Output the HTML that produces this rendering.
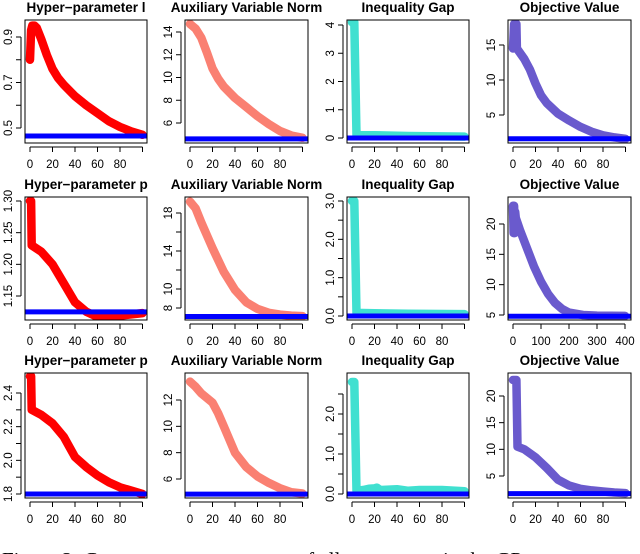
<!DOCTYPE html>
<html><head><meta charset="utf-8">
<style>
html,body{margin:0;padding:0;background:#fff;}
svg{display:block;font-family:"Liberation Sans",sans-serif;}
</style></head>
<body>
<svg id="fig" width="640" height="554" viewBox="0 0 640 554" xmlns="http://www.w3.org/2000/svg">
<defs>
<clipPath id="c1"><rect x="0" y="0" width="151" height="554"/></clipPath>
<clipPath id="c2"><rect x="160" y="0" width="163" height="554"/></clipPath>
<clipPath id="c3"><rect x="323" y="0" width="160" height="554"/></clipPath>
<clipPath id="c4"><rect x="483" y="0" width="157" height="554"/></clipPath>
</defs>
<text x="2" y="567" font-family="Liberation Serif, serif" font-size="21" fill="#000">Figure 2:   Convergence  parameters  of  all  parameters  in  the  GP</text>
</svg>
<script>
// ---- data ----
const p11_x=[0,1,2,4,6,10,15,20,25,30,40,50,60,70,80,90,100];
const p11_y=[0.80,0.93,0.95,0.95,0.94,0.89,0.82,0.76,0.72,0.69,0.64,0.60,0.565,0.53,0.505,0.485,0.47];
const p11_ref=0.465;
const p12_x=[0,5,10,15,20,25,30,40,50,60,70,80,90,100];
const p12_y=[14.7,14.3,13.5,12.2,10.8,9.9,9.2,8.2,7.4,6.6,5.9,5.3,4.9,4.7];
const p12_ref=4.6;
const p13_x=[0,2,4,20,50,100];
const p13_y=[4.1,4.1,0.1,0.1,0.07,0.05];
const p13_ref=0;
const p14_x=[0,1,2,3,3.5,10,15,20,25,30,40,50,60,70,80,90,100];
const p14_y=[14.5,18,14.5,18,14.5,13,11.5,9.5,7.8,6.7,5.2,4.2,3.3,2.6,2.1,1.8,1.6];
const p14_ref=1.6;

const p21_x=[0,1,1.5,10,20,30,40,50,60,70,80,90,100];
const p21_y=[1.30,1.30,1.23,1.22,1.20,1.17,1.14,1.125,1.117,1.117,1.119,1.121,1.123];
const p21_ref=1.125;
const p22_x=[0,5,10,20,30,40,50,60,70,80,90,100];
const p22_y=[19.2,18.5,17,14.3,11.8,9.9,8.6,7.9,7.5,7.3,7.2,7.15];
const p22_ref=7.1;
const p23_x=[0,2,4,20,50,100];
const p23_y=[3.0,3.0,0.08,0.07,0.06,0.05];
const p23_ref=0;
const p24_x=[0,2,4,6,8,10,25,50,75,100,125,150,175,200,250,300,400];
const p24_y=[23,18.5,23,18.5,22,21,19,16,13,10.5,8.5,7,6,5.4,5,4.9,4.85];
const p24_ref=4.8;

const p31_x=[0,1,1.5,10,20,30,35,40,50,60,70,80,90,100];
const p31_y=[2.5,2.5,2.3,2.27,2.22,2.14,2.08,2.02,1.96,1.91,1.87,1.84,1.82,1.80];
const p31_ref=1.8;
const p32_x=[0,5,10,20,25,30,35,40,50,60,70,80,90,100];
const p32_y=[13.4,13,12.5,11.8,11,10,9,8,6.9,6.2,5.7,5.3,5.0,4.9];
const p32_ref=4.85;
const p33_x=[0,2,4,10,15,20,22,25,40,50,60,80,100];
const p33_y=[2.8,2.8,0.08,0.1,0.13,0.14,0.16,0.1,0.12,0.08,0.1,0.1,0.07];
const p33_ref=0;
const p34_x=[0,3,4,10,20,30,40,50,60,70,80,90,100];
const p34_y=[23,23,10.5,10,8.5,6.5,4.3,3.2,2.6,2.3,2.1,1.9,1.8];
const p34_ref=1.7;

const titles=["Hyper−parameter l","Auxiliary Variable Norm","Inequality Gap","Objective Value"];
const titles2=["Hyper−parameter p","Auxiliary Variable Norm","Inequality Gap","Objective Value"];
const xTicks100=[0,20,40,60,80,100];
const xLabels100=["0","20","40","60","80",""];
const xTicks400=[0,100,200,300,400];
const xLabels400=["0","100","200","300","400"];

// ---- layout ----
const NS="http://www.w3.org/2000/svg";
const svg=document.getElementById('fig');
const colL=[25,185,347,508], colR=[147,308,469,631];
const rowT=[20,197,373], rowB=[143,320,498];
const colors=["#ff0000","#fa8072","#40e0d0","#6a5acd"];
function mk(tag,attrs,parent){const e=document.createElementNS(NS,tag);for(const k in attrs)e.setAttribute(k,attrs[k]);(parent||svg).appendChild(e);return e;}

const panels=[
 {r:0,c:0,x:p11_x,y:p11_y,ref:p11_ref,ya:[0.9,37,0.5,128],yt:[0.5,0.6,0.7,0.8,0.9],yl:["0.5","","0.7","","0.9"],t:titles[0]},
 {r:0,c:1,x:p12_x,y:p12_y,ref:p12_ref,ya:[14,32,6,123],yt:[6,8,10,12,14],yl:["6","8","10","12","14"],t:titles[1]},
 {r:0,c:2,x:p13_x,y:p13_y,ref:p13_ref,ya:[4,25,0,138],yt:[0,1,2,3,4],yl:["0","1","2","3","4"],t:titles[2]},
 {r:0,c:3,x:p14_x,y:p14_y,ref:p14_ref,ya:[15,45,5,115],yt:[5,10,15],yl:["5","10","15"],t:titles[3]},
 {r:1,c:0,x:p21_x,y:p21_y,ref:p21_ref,ya:[1.30,201,1.15,296],yt:[1.15,1.20,1.25,1.30],yl:["1.15","1.20","1.25","1.30"],t:titles2[0]},
 {r:1,c:1,x:p22_x,y:p22_y,ref:p22_ref,ya:[18,213,8,308],yt:[8,10,12,14,16,18],yl:["8","10","","14","","18"],t:titles2[1]},
 {r:1,c:2,x:p23_x,y:p23_y,ref:p23_ref,ya:[3,201,0,316],yt:[0,0.5,1,1.5,2,2.5,3],yl:["0.0","","1.0","","2.0","","3.0"],t:titles2[2]},
 {r:1,c:3,x:p24_x,y:p24_y,ref:p24_ref,ya:[20,224,5,315],yt:[5,10,15,20],yl:["5","10","15","20"],t:titles2[3],x400:true},
 {r:2,c:0,x:p31_x,y:p31_y,ref:p31_ref,ya:[2.4,393,1.8,494],yt:[1.8,1.9,2.0,2.1,2.2,2.3,2.4],yl:["1.8","","2.0","","2.2","","2.4"],t:titles2[0]},
 {r:2,c:1,x:p32_x,y:p32_y,ref:p32_ref,ya:[12,400,6,479],yt:[6,8,10,12],yl:["6","8","10","12"],t:titles2[1]},
 {r:2,c:2,x:p33_x,y:p33_y,ref:p33_ref,ya:[2,414,0,494],yt:[0,0.5,1,1.5,2,2.5],yl:["0.0","","1.0","","2.0",""],t:titles2[2]},
 {r:2,c:3,x:p34_x,y:p34_y,ref:p34_ref,ya:[20,396,5,476],yt:[5,10,15,20],yl:["5","10","15","20"],t:titles2[3]}
];

panels.forEach((p,i)=>{
  const L=colL[p.c],R=colR[p.c],T=rowT[p.r],B=rowB[p.r];
  const g=mk('g',{});
  
  
  const X=p.x400?(v=>L+5+v*(R-L-11)/400):(v=>L+5+v*1.125);
  const Y=v=>p.ya[1]+(v-p.ya[0])*(p.ya[3]-p.ya[1])/(p.ya[2]-p.ya[0]);
  const cid='cp'+i;
  const cp=mk('clipPath',{id:cid},g);mk('rect',{x:L,y:T,width:R-L,height:B-T},cp);
  let d='';p.x.forEach((v,k)=>{d+=(k?'L':'M')+X(v).toFixed(1)+' '+Y(p.y[k]).toFixed(1);});
  const path=mk('path',{d:d,fill:'none',stroke:colors[p.c],'stroke-width':8.5,'stroke-linejoin':'round','stroke-linecap':'round','clip-path':'url(#'+cid+')'},g);
  
  
  const ref=mk('line',{x1:L,x2:R,y1:Y(p.ref),y2:Y(p.ref),stroke:'#0000ff','stroke-width':5},g);
  
  
  const box=mk('rect',{x:L,y:T,width:R-L,height:B-T,fill:'none',stroke:'#000','stroke-width':1},g);
  
  
  const xt=p.x400?xTicks400:xTicks100, xl=p.x400?xLabels400:xLabels100;
  mk('line',{x1:X(xt[0]),x2:X(xt[xt.length-1]),y1:B+4,y2:B+4,stroke:'#000'},g);
  xt.forEach((v,k)=>{
    mk('line',{x1:X(v),x2:X(v),y1:B+4,y2:B+9,stroke:'#000'},g);
    const t=mk('text',{x:X(v),y:B+25,'text-anchor':'middle','font-size':11.5},g);
    t.textContent=xl[k];
    
    
  });
  mk('line',{x1:L-4,x2:L-4,y1:Y(p.yt[0]),y2:Y(p.yt[p.yt.length-1]),stroke:'#000'},g);
  p.yt.forEach((v,k)=>{
    mk('line',{x1:L-4,x2:L-9,y1:Y(v),y2:Y(v),stroke:'#000'},g);
    if(p.yl[k]){
      const t=mk('text',{x:0,y:0,'text-anchor':'middle','font-size':11.5,transform:'translate('+(L-13)+','+Y(v)+') rotate(-90)'},g);
      t.textContent=p.yl[k];
      
      
    }
  });
  const tt=mk('text',{x:(L+R)/2,y:T-8,'text-anchor':'middle','font-size':13.5,'font-weight':'bold','clip-path':'url(#c'+(p.c+1)+')'},g);
  tt.textContent=p.t;
  
  
});
</script>
</body></html>
